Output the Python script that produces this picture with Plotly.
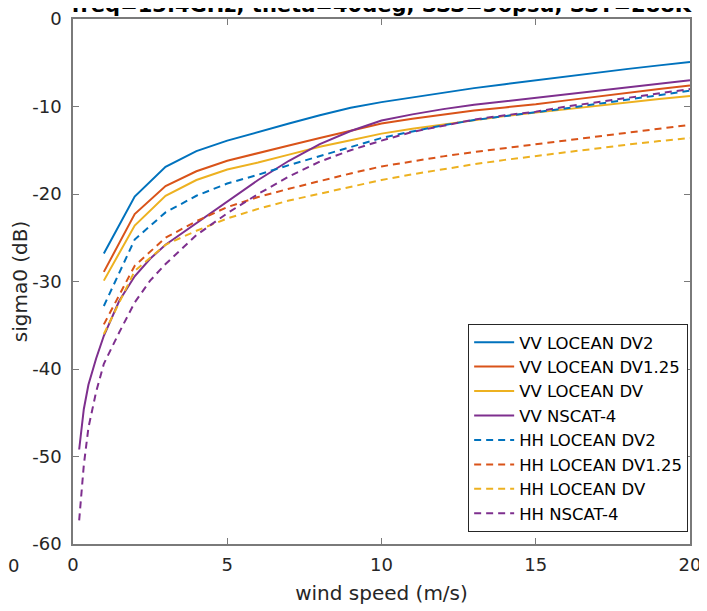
import plotly.graph_objects as go

# wind speed grids
wind_locean = list(range(1, 21))
wind_nscat = [0.2, 0.35, 0.5, 0.75, 1, 1.5, 2, 2.5, 3, 4, 5, 6, 7, 8, 9, 10,
              11, 12, 13, 14, 15, 16, 17, 18, 19, 20]

# sigma0 (dB)
vv_dv2 = [-26.8, -20.3, -16.9, -15.1, -13.9, -12.9, -11.95, -11.0, -10.15, -9.5,
          -8.95, -8.4, -7.9, -7.45, -7.0, -6.55, -6.15, -5.7, -5.3, -4.9]
vv_dv125 = [-28.9, -22.3, -19.1, -17.4, -16.2, -15.3, -14.45, -13.6, -12.75, -11.95,
            -11.4, -10.9, -10.45, -10.1, -9.75, -9.3, -8.85, -8.45, -8.0, -7.6]
vv_dv = [-29.9, -23.6, -20.2, -18.4, -17.2, -16.4, -15.5, -14.6, -13.85, -13.1,
         -12.55, -12.05, -11.55, -11.1, -10.7, -10.3, -9.9, -9.5, -9.15, -8.8]
vv_nscat = [-49.2, -44.6, -41.8, -38.8, -36.2, -32.2, -29.4, -27.4, -25.8, -23.3,
            -20.9, -18.4, -16.2, -14.3, -12.8, -11.6, -10.9, -10.3, -9.8, -9.4,
            -9.0, -8.6, -8.2, -7.8, -7.4, -7.0]
hh_dv2 = [-32.8, -25.2, -22.1, -20.2, -18.8, -17.8, -16.7, -15.65, -14.6, -13.6,
          -12.85, -12.15, -11.55, -11.1, -10.7, -10.2, -9.7, -9.2, -8.7, -8.2]
hh_dv125 = [-34.9, -28.2, -25.0, -23.1, -21.5, -20.35, -19.4, -18.5, -17.65, -16.85,
            -16.25, -15.7, -15.2, -14.75, -14.3, -13.85, -13.4, -12.95, -12.5, -12.1]
hh_dv = [-36.0, -28.8, -25.8, -24.2, -22.8, -21.7, -20.75, -19.95, -19.15, -18.4,
         -17.75, -17.15, -16.6, -16.1, -15.65, -15.2, -14.75, -14.35, -13.95, -13.6]
hh_nscat = [-57.3, -51.0, -46.7, -42.6, -39.4, -35.8, -32.4, -29.9, -28.0, -24.7,
            -22.2, -20.0, -18.0, -16.3, -15.0, -13.9, -12.9, -12.2, -11.5, -11.0,
            -10.6, -10.0, -9.5, -9.0, -8.5, -8.0]

x_ticks = [0, 5, 10, 15, 20]
y_ticks = [0, -10, -20, -30, -40, -50, -60]

colours = {'blue': '#0072BD', 'orange': '#D95319', 'yellow': '#EDB120', 'purple': '#7E2F8E'}
font = 'DejaVu Sans'
ink = '#262626'
frame = '#7a7a7a'

series = [
    ('VV LOCEAN DV2', wind_locean, vv_dv2, 'blue', 'solid'),
    ('VV LOCEAN DV1.25', wind_locean, vv_dv125, 'orange', 'solid'),
    ('VV LOCEAN DV', wind_locean, vv_dv, 'yellow', 'solid'),
    ('VV NSCAT-4', wind_nscat, vv_nscat, 'purple', 'solid'),
    ('HH LOCEAN DV2', wind_locean, hh_dv2, 'blue', '7px,5px'),
    ('HH LOCEAN DV1.25', wind_locean, hh_dv125, 'orange', '7px,5px'),
    ('HH LOCEAN DV', wind_locean, hh_dv, 'yellow', '7px,5px'),
    ('HH NSCAT-4', wind_nscat, hh_nscat, 'purple', '7px,5px'),
]

fig = go.Figure()
for name, xs, ys, colour, dash in series:
    fig.add_trace(go.Scatter(
        x=xs, y=ys, mode='lines', name=name,
        line={'color': colours[colour], 'width': 2, 'dash': dash},
    ))

# the page body adds an 8px offset, so the figure is sized to what is left
fig.update_layout(
    width=699, height=603,
    margin={'l': 65, 'r': 17, 't': 11, 'b': 67, 'autoexpand': False},
    plot_bgcolor='white', paper_bgcolor='white',
    font={'family': font, 'color': ink, 'size': 18},
    title={'text': '<b>freq=13.4GHz, theta=40deg, SSS=36psu, SST=288K</b>',
           'font': {'size': 21, 'color': 'black'}, 'automargin': False,
           'x': 0.534, 'xanchor': 'center', 'y': 0.9934, 'yanchor': 'bottom'},
    showlegend=True,
    legend={'x': 0.997, 'xanchor': 'right', 'y': 0.023, 'yanchor': 'bottom',
            'bgcolor': 'white', 'bordercolor': ink, 'borderwidth': 1,
            'itemwidth': 40, 'font': {'size': 16.5, 'color': 'black'}},
    # stray tick label of a neighbouring panel, seen at the far left
    annotations=[{'text': '0', 'xref': 'paper', 'yref': 'paper',
                  'x': -0.096, 'y': -0.04, 'xanchor': 'center', 'yanchor': 'middle',
                  'showarrow': False, 'font': {'size': 18, 'color': ink}}],
)
fig.update_xaxes(
    range=[0, 20], tickvals=x_ticks, ticktext=[str(v) for v in x_ticks],
    title={'text': 'wind speed (m/s)', 'font': {'size': 20}, 'standoff': 12},
    automargin=False, showgrid=False, zeroline=False,
    showline=True, linecolor=frame, linewidth=1.5, mirror='allticks',
    ticks='inside', ticklen=6, tickcolor=frame, ticklabelstandoff=4,
)
fig.update_yaxes(
    range=[-60, 0], tickvals=y_ticks, ticktext=[str(v) for v in y_ticks],
    title={'text': 'sigma0 (dB)', 'font': {'size': 20}, 'standoff': 6},
    automargin=False, showgrid=False, zeroline=False,
    showline=True, linecolor=frame, linewidth=1.5, mirror='allticks',
    ticks='inside', ticklen=6, tickcolor=frame, ticklabelstandoff=6,
)

fig.write_html("out.html")
